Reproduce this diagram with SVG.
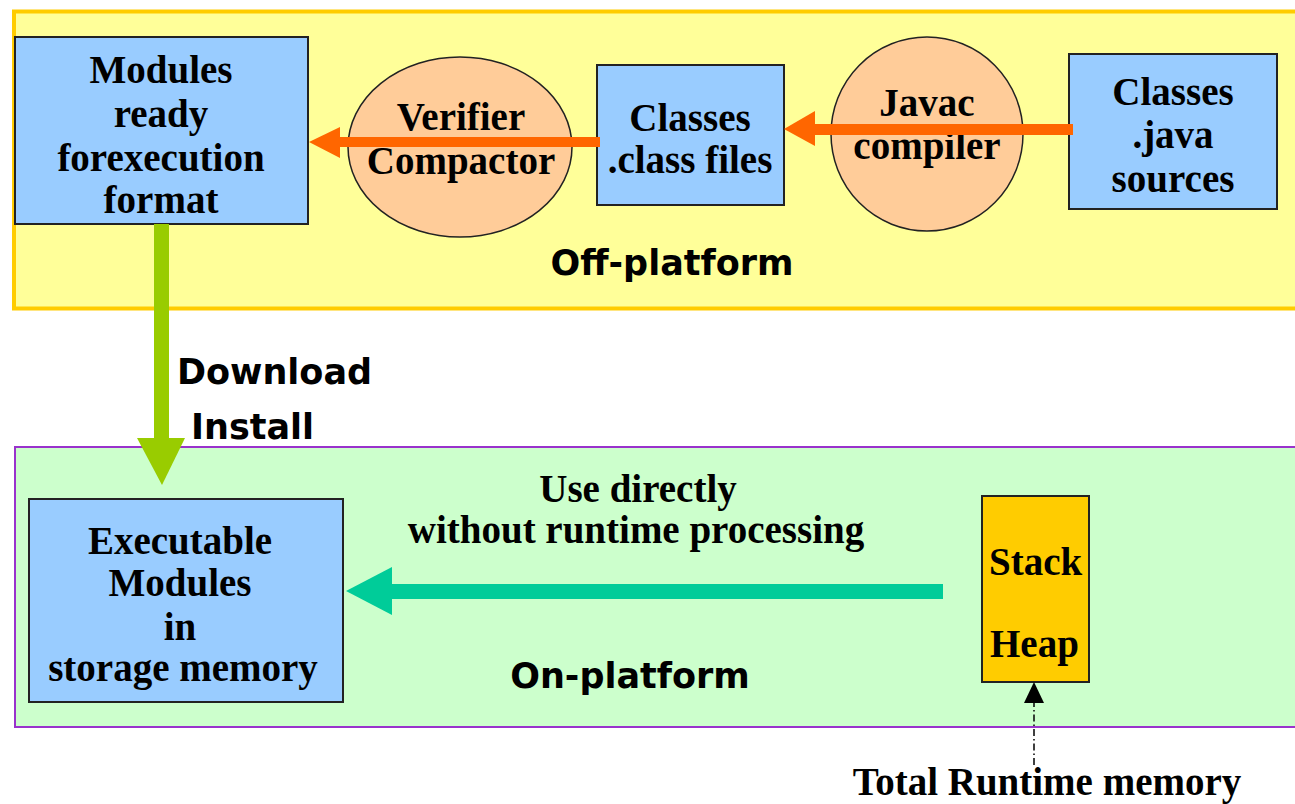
<svg xmlns="http://www.w3.org/2000/svg" width="1295" height="804" viewBox="0 0 1295 804">
<style>
.t{font-family:"Liberation Serif","Times New Roman",serif;font-weight:bold;font-size:39px;fill:#000;text-anchor:middle}
.ts{font-family:"Liberation Serif","Times New Roman",serif;font-weight:bold;font-size:39px;fill:#000;text-anchor:start}
.s{font-family:"DejaVu Sans",Verdana,sans-serif;font-weight:bold;font-size:35px;fill:#000}
.box{fill:#99CCFF;stroke:#222;stroke-width:2}
.ell{fill:#FFCC99;stroke:#222;stroke-width:1.5}
</style>
<rect width="1295" height="804" fill="#fff"/>
<g id="offplatform">
<rect x="14" y="11.5" width="1300" height="297" fill="#FFFF99" stroke="#FFCC00" stroke-width="4"/>
<text class="s" x="672" y="275" text-anchor="middle">Off-platform</text>
</g>
<g id="onplatform">
<rect x="15" y="447" width="1300" height="280" fill="#CCFFCC" stroke="#9933CC" stroke-width="2"/>
<text class="s" x="630" y="688" text-anchor="middle">On-platform</text>
</g>
<g id="modules-ready">
<rect class="box" x="15" y="37" width="293" height="187"/>
<text class="t" x="161" y="83">Modules</text>
<text class="t" x="161" y="127">ready</text>
<text class="t" x="161" y="171">forexecution</text>
<text class="t" x="161" y="213">format</text>
</g>
<g id="verifier">
<ellipse class="ell" cx="460" cy="147" rx="112" ry="90"/>
<text class="t" x="461" y="130">Verifier</text>
<text class="t" x="461" y="174">Compactor</text>
</g>
<g id="class-files">
<rect class="box" x="597" y="65" width="187" height="140"/>
<text class="t" x="690" y="131">Classes</text>
<text class="t" x="690" y="173">.class files</text>
</g>
<g id="javac">
<ellipse class="ell" cx="927" cy="134" rx="96" ry="97"/>
<text class="t" x="927" y="116">Javac</text>
<text class="t" x="927" y="159">compiler</text>
</g>
<g id="java-sources">
<rect class="box" x="1069" y="54" width="208" height="155"/>
<text class="t" x="1173" y="105">Classes</text>
<text class="t" x="1173" y="148">.java</text>
<text class="t" x="1173" y="192">sources</text>
</g>
<g id="download-label">
<text class="s" x="177" y="384">Download</text>
<text class="s" x="191" y="439">Install</text>
</g>
<g id="executable">
<rect class="box" x="29" y="499" width="314" height="203"/>
<text class="t" x="180" y="554">Executable</text>
<text class="t" x="180" y="596">Modules</text>
<text class="t" x="180" y="640">in</text>
<text class="t" x="183" y="681">storage memory</text>
</g>
<g id="use-directly">
<text class="t" x="638" y="502">Use directly</text>
<text class="t" x="636" y="543">without runtime processing</text>
</g>
<g id="stack-heap">
<rect x="982" y="496" width="107" height="186" fill="#FFCC00" stroke="#222" stroke-width="2"/>
<text class="ts" x="989" y="575">Stack</text>
<text class="ts" x="990" y="657">Heap</text>
</g>
<g id="total-runtime">
<text class="t" x="1047" y="795">Total Runtime memory</text>
</g>
<g id="connectors">
<rect x="340" y="137" width="260" height="10" fill="#FF6600"/>
<polygon points="309,142 340,127 340,158" fill="#FF6600"/>
<rect x="815" y="124" width="258" height="11" fill="#FF6600"/>
<polygon points="784,129 815,111 815,146" fill="#FF6600"/>
<rect x="154" y="224" width="15" height="215" fill="#99CC00"/>
<polygon points="137,438 185,438 162,485" fill="#99CC00"/>
<rect x="392" y="584" width="551" height="15" fill="#00CC99"/>
<polygon points="346,591 392,567 392,615" fill="#00CC99"/>
<line x1="1034" y1="765" x2="1034" y2="700" stroke="#000" stroke-width="1.5" stroke-dasharray="7,3,1.5,3"/>
<polygon points="1034,682 1024,703 1044,703" fill="#000"/>
</g>
</svg>
